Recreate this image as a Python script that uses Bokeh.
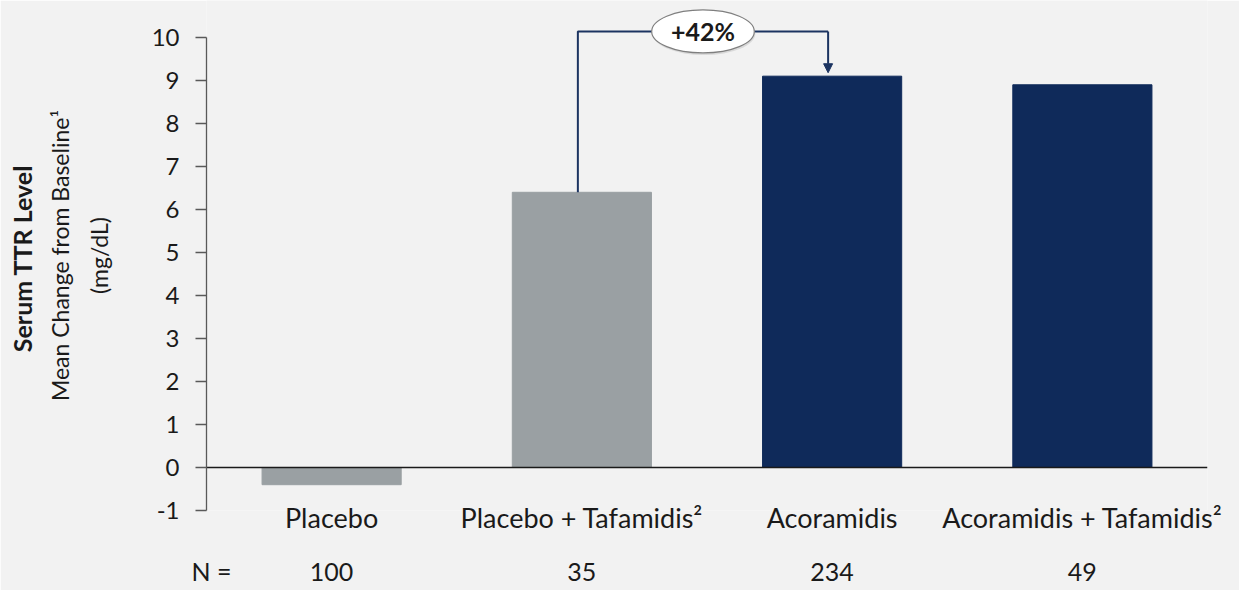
from bokeh.plotting import figure
from bokeh.models import FixedTicker, LinearAxis, Range1d, Arrow, NormalHead, ColumnDataSource
from bokeh.core.properties import value
from bokeh.embed import file_html
from bokeh.resources import INLINE

# Data
categories = ["Placebo", "Placebo + Tafamidis\u00b2", "Acoramidis", "Acoramidis + Tafamidis\u00b2"]
mean_change = [-0.4, 6.4, 9.1, 8.9]
n_counts = ["100", "35", "234", "49"]
bar_colors = ["#9aa0a3", "#9aa0a3", "#0f2a5a", "#0f2a5a"]
y_ticks = [-1, 0, 1, 2, 3, 4, 5, 6, 7, 8, 9, 10]
pct_change = "+42%"
title_lines = ["Serum TTR  Level", "Mean Change from Baseline\u00b9", "(mg/dL)"]

FONT = "Lato"
BG = "#f2f2f2"
NAVY = "#1c3461"
INK = "#1a1a1a"

x_pos = [i + 0.5 for i in range(len(categories))]

p = figure(width=1239, height=590, output_backend="svg", toolbar_location=None,
           x_range=Range1d(0, 4), y_range=Range1d(-1.0, 10.86),
           min_border_left=206, min_border_right=32, min_border_top=0,
           min_border_bottom=80)
p.background_fill_color = BG
p.border_fill_color = BG
p.outline_line_color = None
p.grid.visible = False

src = ColumnDataSource(dict(x=x_pos, top=mean_change, color=bar_colors))
p.vbar(x="x", top="top", bottom=0, width=0.556, color="color", source=src)

# zero baseline
p.segment(x0=[0], y0=[0], x1=[4], y1=[0], line_color=INK, line_width=1.5)

# y axis
ya = p.yaxis[0]
ya.ticker = FixedTicker(ticks=y_ticks)
ya.major_label_overrides = {t: str(t) for t in y_ticks}
ya.bounds = (-1, 10)
ya.axis_line_color = "#595959"
ya.axis_line_width = 1.3
ya.major_tick_line_color = "#595959"
ya.major_tick_line_width = 1.3
ya.major_tick_out = 11
ya.major_tick_in = 0
ya.minor_tick_line_color = None
ya.major_label_standoff = 16
ya.major_label_text_font = FONT
ya.major_label_text_font_size = "24px"
ya.major_label_text_color = INK


def title_axis(text, style, size, standoff):
    ax = LinearAxis(ticker=FixedTicker(ticks=[]), axis_label=text)
    ax.axis_line_color = None
    ax.major_tick_line_color = None
    ax.minor_tick_line_color = None
    ax.major_tick_out = 0
    ax.minor_tick_out = 0
    ax.major_label_text_font_size = "0px"
    ax.major_label_standoff = 0
    ax.axis_label_standoff = standoff
    ax.axis_label_text_font = FONT
    ax.axis_label_text_font_size = size
    ax.axis_label_text_font_style = style
    ax.axis_label_text_color = INK
    return ax


# three-line y title, innermost line first
p.add_layout(title_axis(title_lines[2], "normal", "23px", 36), "left")
p.add_layout(title_axis(title_lines[1], "normal", "23px", 8), "left")
p.add_layout(title_axis(title_lines[0], "bold", "25px", 6), "left")

# x axis with category names
xa = p.xaxis[0]
xa.ticker = FixedTicker(ticks=x_pos)
xa.major_label_overrides = {x: c for x, c in zip(x_pos, categories)}
xa.axis_line_color = None
xa.major_tick_line_color = None
xa.minor_tick_line_color = None
xa.major_tick_out = 0
xa.major_tick_in = 0
xa.major_label_standoff = -10
xa.major_label_text_font = FONT
xa.major_label_text_font_size = "27px"
xa.major_label_text_color = INK

# N row as a second bottom axis
n_ticks = [0.02] + x_pos
na = LinearAxis(ticker=FixedTicker(ticks=n_ticks))
na.major_label_overrides = {0.02: "N ="} | {x: n for x, n in zip(x_pos, n_counts)}
na.axis_line_color = None
na.major_tick_line_color = None
na.minor_tick_line_color = None
na.major_tick_out = 0
na.major_tick_in = 0
na.major_label_standoff = 19
na.major_label_text_font = FONT
na.major_label_text_font_size = "25px"
na.major_label_text_color = INK
p.add_layout(na, "below")

# comparison bracket from bar 2 to bar 3
off = 0.016
y_br = 10.14
x_l = x_pos[1] - off
x_r = x_pos[2] - off
p.line(x=[x_l, x_l, x_r], y=[mean_change[1], y_br, y_br], line_color=NAVY, line_width=2)
p.add_layout(Arrow(end=NormalHead(size=9, fill_color=NAVY, line_color=NAVY),
                   x_start=x_r, y_start=y_br, x_end=x_r, y_end=mean_change[2] + 0.08,
                   line_color=NAVY, line_width=2))

# bubble with the percent change
xc = (x_l + x_r) / 2
p.ellipse(x=[xc + 0.004], y=[y_br - 0.05], width=0.41, height=1.0, fill_color="#c8c8c8",
          line_color=None, fill_alpha=0.6)
p.ellipse(x=[xc], y=[y_br], width=0.41, height=1.0, fill_color="white",
          line_color="#7f7f7f", line_width=1.2)
p.text(x=[xc], y=[y_br], text=[pct_change], text_align="center", text_baseline="middle",
       text_font=value(FONT), text_font_size="25px", text_font_style="bold", text_color=INK)

open("out.html", "w").write(file_html(p, INLINE))
